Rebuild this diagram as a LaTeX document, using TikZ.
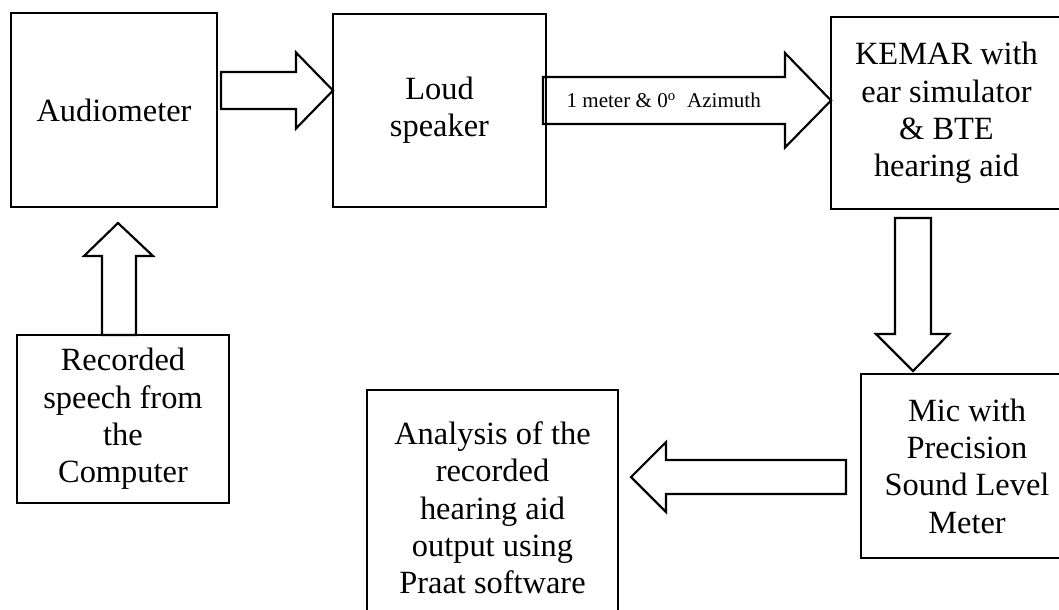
\documentclass[tikz,border=0pt]{standalone}
\usepackage{fontspec}
\setmainfont{Liberation Serif}
\usepackage{tikz}
\usetikzlibrary{positioning, calc}

\begin{document}
\begin{tikzpicture}[
        x=0.37pt, y=-0.37pt,
        box/.style={rectangle, draw, line width=0.8pt, inner sep=0pt, outer sep=0pt,
                    align=center, font=\fontsize{12}{13.8}\selectfont},
        fatarrow/.style={draw, line width=0.8pt, line join=miter},
        lbl/.style={inner sep=0pt, font=\fontsize{7.8}{9}\selectfont}
    ]
        \useasboundingbox (0,0) rectangle (1059,609);
        \clip (0,0) rectangle (1059,609);

        % Boxes
        \node[box, minimum width=76.22pt, minimum height=71.78pt] (audio) at (114,110) {Audiometer};
        \node[box, minimum width=78.81pt, minimum height=71.41pt] (speaker) at (439.5,110.5) {Loud\\speaker};
        \node[box, minimum width=85.47pt, minimum height=71.04pt] (kemar) at (946.5,113) {KEMAR with\\ear simulator\\\& BTE\\hearing aid};
        \node[box, minimum width=78.44pt, minimum height=62.16pt] (record) at (123,419) {Recorded\\speech from\\the\\Computer};
        \node[box, minimum width=78.44pt, minimum height=68.08pt] (mic) at (967,466) {Mic with\\Precision\\Sound Level\\Meter};
        \node[box, minimum width=92.87pt, minimum height=87.32pt] (analysis) at (492.5,508) {Analysis of the\\recorded\\hearing aid\\output using\\Praat software};

        % Tips of the block arrows
        \coordinate (t1) at ($(speaker.west)+(0,-20)$);
        \coordinate (t2) at ($(kemar.west)+(0,-12.5)$);
        \coordinate (t3) at ($(mic.north)+(-54,-3)$);
        \coordinate (t4) at ($(analysis.east)+(13,-31)$);
        \coordinate (t5) at ($(audio.south)+(4,16)$);

        % Block arrows
        \draw[fatarrow] ($(audio.east|-t1)+(4,-18.5)$) -- ++(75,0) -- ++(0,-19.5) -- (t1)
            -- ++(-37,38) -- ++(0,-19.5) -- ++(-75,0) -- cycle;
        \draw[fatarrow] ($(speaker.east|-t2)+(-3,-23.5)$) -- ++(242,0) -- ++(0,-24) -- (t2)
            -- ++(-46,47) -- ++(0,-23.5) -- ++(-242,0) -- cycle;
        \node[lbl, anchor=west] (dist) at ($(speaker.east|-t2)+(20,0)$) {1 meter \& 0\textsuperscript{o}\ \ Azimuth};
        \draw[fatarrow] ($(t3|-kemar.south)+(-18,9)$) -- ++(0,116) -- ++(-19,0) -- (t3)
            -- ++(36,-37) -- ++(-18,0) -- ++(0,-116) -- cycle;
        \draw[fatarrow] ($(mic.west|-t4)+(-15,-17)$) -- ++(0,34) -- ++(-180,0) -- ++(0,18) -- (t4)
            -- ++(35,-35) -- ++(0,18) -- cycle;
        \draw[fatarrow] ($(record.north-|t5)+(-16,0)$) -- ++(0,-79) -- ++(-18,0) -- (t5)
            -- ++(35,33) -- ++(-17,0) -- ++(0,79) -- cycle;
    \end{tikzpicture}
\end{document}
